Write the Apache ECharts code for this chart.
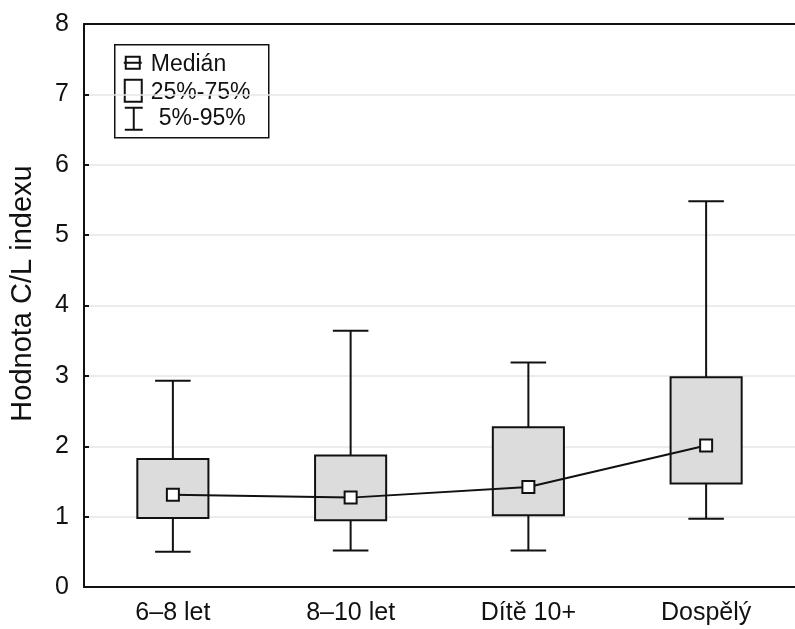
<!DOCTYPE html>
<html>
<head>
<meta charset="utf-8">
<style>
  html, body { margin: 0; padding: 0; background: #fff; }
  #chart { width: 795px; height: 629px; }
</style>
<script src="https://cdn.jsdelivr.net/npm/echarts/dist/echarts.min.js"></script>
</head>
<body>
<div id="chart"></div>
<script>
// Age groups on the x axis
const categories = ['6–8 let', '8–10 let', 'Dítě 10+', 'Dospělý'];
// Distribution of the C/L index per group
const p5 = [0.50, 0.52, 0.52, 0.97];
const q1 = [0.98, 0.95, 1.02, 1.47];
const median = [1.31, 1.27, 1.42, 2.01];
const q3 = [1.82, 1.87, 2.27, 2.98];
const p95 = [2.93, 3.64, 3.19, 5.48];
const yTicks = [0, 1, 2, 3, 4, 5, 6, 7, 8];

const FONT = '"Liberation Sans", Arial, Helvetica, sans-serif';
const INK = '#111';

const boxData = categories.map((c, i) => [i, p5[i], q1[i], median[i], q3[i], p95[i]]);

function renderBox(params, api) {
  const x = api.value(0);
  const lo = api.coord([x, api.value(1)]);
  const b1 = api.coord([x, api.value(2)]);
  const b3 = api.coord([x, api.value(4)]);
  const hi = api.coord([x, api.value(5)]);
  const band = api.size([1, 0])[0];
  const bw = band * 0.40;
  const cw = band * 0.20;
  const cx = lo[0];
  const line = { stroke: INK, lineWidth: 2 };
  return {
    type: 'group',
    children: [
      { type: 'line', shape: { x1: cx, y1: b3[1], x2: cx, y2: hi[1] }, style: line },
      { type: 'line', shape: { x1: cx - cw / 2, y1: hi[1], x2: cx + cw / 2, y2: hi[1] }, style: line },
      { type: 'line', shape: { x1: cx, y1: b1[1], x2: cx, y2: lo[1] }, style: line },
      { type: 'line', shape: { x1: cx - cw / 2, y1: lo[1], x2: cx + cw / 2, y2: lo[1] }, style: line },
      { type: 'rect', shape: { x: cx - bw / 2, y: b3[1], width: bw, height: b1[1] - b3[1] },
        style: { fill: '#dcdcdc', stroke: INK, lineWidth: 2 } }
    ]
  };
}

const chart = echarts.init(document.getElementById('chart'), null, { renderer: 'canvas' });

chart.setOption({
  animation: false,
  backgroundColor: '#fff',
  textStyle: { fontFamily: FONT },
  grid: { left: 81, right: 0, top: 24, bottom: 42, containLabel: false },
  xAxis: [
    {
      type: 'category',
      data: categories,
      boundaryGap: true,
      axisLine: { lineStyle: { color: INK, width: 2 } },
      axisTick: { inside: true, length: 5, alignWithLabel: true, lineStyle: { color: INK, width: 2 } },
      axisLabel: { color: INK, fontSize: 25, fontFamily: FONT, margin: 14 },
      splitLine: { show: false }
    },
    {
      type: 'category',
      data: categories,
      position: 'top',
      boundaryGap: true,
      axisLine: { lineStyle: { color: INK, width: 2 } },
      axisTick: { inside: true, length: 5, alignWithLabel: true, lineStyle: { color: INK, width: 2 } },
      axisLabel: { show: false },
      splitLine: { show: false }
    }
  ],
  yAxis: {
    type: 'value',
    min: yTicks[0],
    max: yTicks[yTicks.length - 1],
    interval: 1,
    name: 'Hodnota C/L indexu',
    nameLocation: 'middle',
    nameGap: 47,
    nameTextStyle: { color: INK, fontSize: 29, fontFamily: FONT, padding: [0, 0, 0, 24] },
    axisLine: { show: true, lineStyle: { color: INK, width: 2 } },
    axisTick: { show: true, inside: true, length: 5, lineStyle: { color: INK, width: 2 } },
    axisLabel: { color: INK, fontSize: 25, fontFamily: FONT, margin: 15 },
    splitLine: { show: true, lineStyle: { color: '#e6e6e6', width: 1.5 } }
  },
  series: [
    {
      name: '25%-75%',
      type: 'custom',
      renderItem: renderBox,
      encode: { x: 0, y: [1, 2, 3, 4, 5] },
      data: boxData,
      z: 2
    },
    {
      name: 'Medián',
      type: 'line',
      data: median,
      symbol: 'rect',
      symbolSize: 12,
      showAllSymbol: true,
      lineStyle: { color: INK, width: 2 },
      itemStyle: { color: '#fff', borderColor: INK, borderWidth: 2 },
      z: 5
    }
  ],
  graphic: [
    {
      type: 'group',
      left: 114,
      top: 44,
      z: 20,
      children: [
        { type: 'rect', shape: { x: 0, y: 0, width: 154, height: 93 },
          style: { fill: '#fff', stroke: INK, lineWidth: 1.5 } },
        // median key
        { type: 'rect', shape: { x: 11, y: 12, width: 14, height: 12 },
          style: { fill: '#fff', stroke: INK, lineWidth: 2 } },
        { type: 'line', shape: { x1: 9, y1: 18, x2: 27, y2: 18 },
          style: { stroke: INK, lineWidth: 2 } },
        { type: 'text', x: 36, y: 20,
          style: { text: 'Medián', fill: INK, fontSize: 23, fontFamily: FONT, verticalAlign: 'middle' } },
        // quartile box key
        { type: 'rect', shape: { x: 10, y: 35, width: 17, height: 22 },
          style: { fill: '#fff', stroke: INK, lineWidth: 2 } },
        { type: 'text', x: 36, y: 48,
          style: { text: '25%-75%', fill: INK, fontSize: 23, fontFamily: FONT, verticalAlign: 'middle' } },
        // whisker key
        { type: 'line', shape: { x1: 19, y1: 63, x2: 19, y2: 85 },
          style: { stroke: INK, lineWidth: 2 } },
        { type: 'line', shape: { x1: 10, y1: 63, x2: 28, y2: 63 },
          style: { stroke: INK, lineWidth: 2 } },
        { type: 'line', shape: { x1: 10, y1: 85, x2: 28, y2: 85 },
          style: { stroke: INK, lineWidth: 2 } },
        { type: 'text', x: 44, y: 74,
          style: { text: '5%-95%', fill: INK, fontSize: 23, fontFamily: FONT, verticalAlign: 'middle' } }
      ]
    }
  ]
});
</script>
</body>
</html>
